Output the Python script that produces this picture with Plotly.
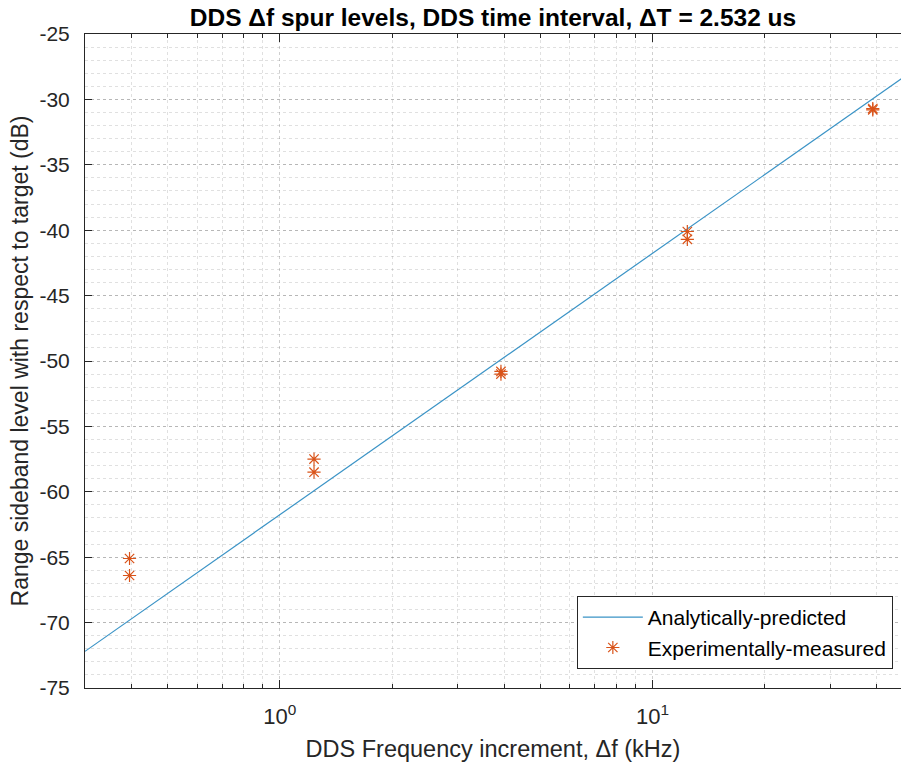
import plotly.graph_objects as go

# Analytically-predicted spur level (straight line on a log-frequency axis)
pred_freq_khz = [0.3, 50.0]
pred_level_db = [-72.2, -27.8]

# Experimentally-measured spur levels (two measurements per frequency step)
meas_freq_khz = [0.395, 0.395, 1.235, 1.235, 3.92, 3.92, 12.4, 12.4, 39.0, 39.0]
meas_level_db = [-65.1, -66.4, -57.5, -58.5, -50.8, -51.0, -40.1, -40.7, -30.7, -30.8]

x_major_ticks = [1, 10]
x_major_text = ["10<sup>0</sup>", "10<sup>1</sup>"]
x_minor_ticks = [0.3, 0.4, 0.5, 0.6, 0.7, 0.8, 0.9, 2, 3, 4, 5, 6, 7, 8, 9, 20, 30, 40]

y_ticks = [-75, -70, -65, -60, -55, -50, -45, -40, -35, -30, -25]
y_tick_text = ["-75", "-70", "-65", "-60", "-55", "-50", "-45", "-40", "-35", "-30", "-25"]

font_family = "Liberation Sans, Arial, Helvetica, sans-serif"
axis_color = "#262626"
major_grid = "rgba(38,38,38,0.22)"
minor_grid = "rgba(38,38,38,0.14)"

fig = go.Figure()
fig.add_trace(go.Scatter(
    x=pred_freq_khz, y=pred_level_db, mode="lines",
    name="Analytically-predicted",
    line=dict(color="#3a93c6", width=1.2),
))
fig.add_trace(go.Scatter(
    x=meas_freq_khz, y=meas_level_db, mode="markers",
    name="Experimentally-measured",
    marker=dict(symbol="asterisk-open", size=11, color="#D95319",
                line=dict(color="#D95319", width=1.2)),
))

fig.update_layout(
    width=901, height=765,
    margin=dict(l=85, r=0, t=34, b=77),
    paper_bgcolor="white", plot_bgcolor="white",
    font=dict(family=font_family, size=20, color=axis_color),
    title=dict(
        text="<b>DDS \u0394f spur levels, DDS time interval, \u0394T = 2.532 us</b>",
        x=(85 + 901) / 2 / 901, xanchor="center", y=1 - 17 / 765, yanchor="middle",
        font=dict(size=24.5, color="black"),
    ),
    legend=dict(
        x=0.990, y=0.029, xanchor="right", yanchor="bottom",
        bgcolor="white", bordercolor=axis_color, borderwidth=1,
        font=dict(size=21, color="black"),
        itemwidth=60, tracegroupgap=0,
    ),
    showlegend=True,
)

fig.update_xaxes(
    type="log", range=[-0.5229, 1.6668],
    tickvals=x_major_ticks, ticktext=x_major_text,
    ticks="inside", ticklen=8, tickcolor=axis_color, tickwidth=1,
    showline=True, linecolor=axis_color, linewidth=1, mirror="ticks",
    showgrid=True, gridcolor=major_grid, griddash="dot", gridwidth=1,
    minor=dict(tickvals=x_minor_ticks, ticks="inside", ticklen=4,
               tickcolor=axis_color, showgrid=True, gridcolor=minor_grid,
               griddash="dot", gridwidth=1),
    zeroline=False, ticklabelstandoff=9,
    tickfont=dict(size=22, color=axis_color),
    title=dict(text="DDS Frequency increment, \u0394f (kHz)",
               font=dict(size=23.5, color=axis_color), standoff=12),
)
fig.update_yaxes(
    range=[-75, -25], tickvals=y_ticks, ticktext=y_tick_text,
    ticks="inside", ticklen=7, tickcolor=axis_color, tickwidth=1,
    showline=True, linecolor=axis_color, linewidth=1, mirror=False,
    showgrid=True, gridcolor=major_grid, griddash="dot", gridwidth=1,
    minor=dict(dtick=1, ticks="", showgrid=True, gridcolor=minor_grid,
               griddash="dot", gridwidth=1),
    zeroline=False, ticklabelstandoff=10,
    tickfont=dict(size=21, color=axis_color),
    title=dict(text="Range sideband level with respect to target (dB)",
               font=dict(size=23, color=axis_color), standoff=4),
)

fig.write_html("out.html")
